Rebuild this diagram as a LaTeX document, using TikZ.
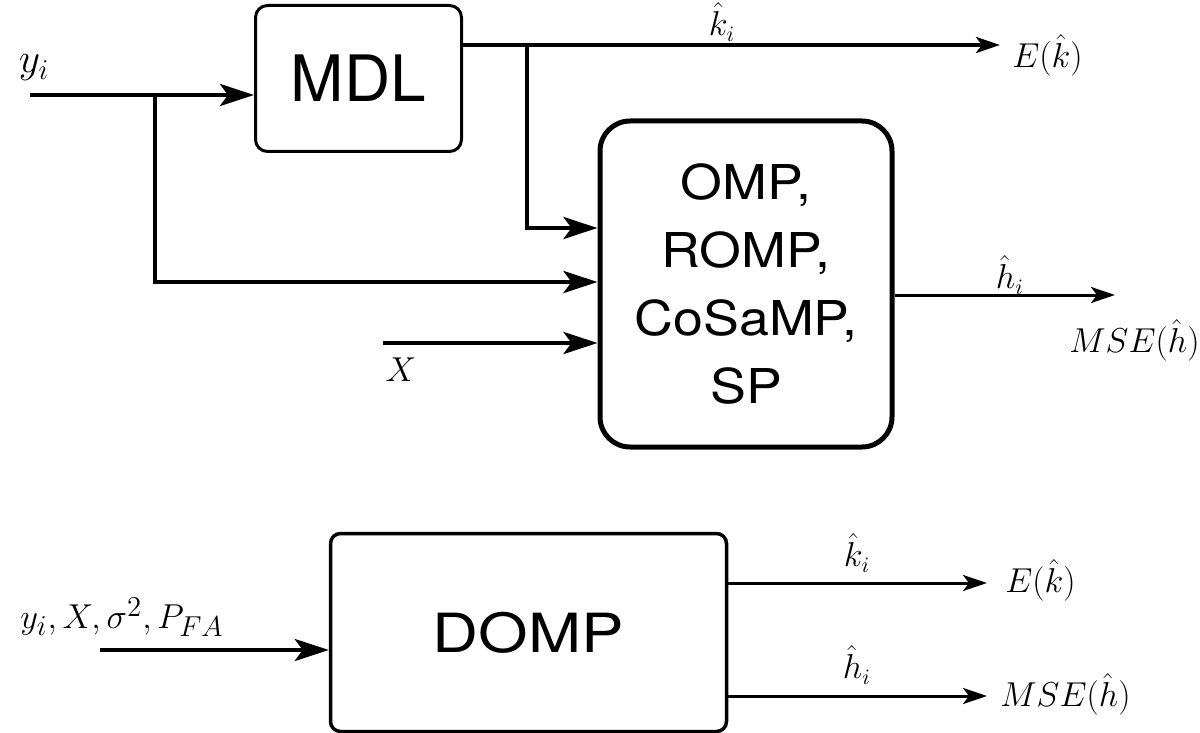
\documentclass[tikz,border=0pt]{standalone}
\usepackage{fontspec}
\newfontfamily\blkfont{TeX Gyre Heros}
\newfontfamily\widefont[FakeStretch=1.12]{TeX Gyre Heros}
\newfontfamily\widerfont[FakeStretch=1.18]{TeX Gyre Heros}
\usetikzlibrary{arrows.meta}

\begin{document}
\begin{tikzpicture}[x=0.5pt,y=-0.5pt,
    insig/.style={line width=2.2pt,-{Stealth[length=17pt,width=11pt,inset=4pt]}},
    outsig/.style={line width=1.5pt,-{Stealth[length=12pt,width=8pt,inset=3pt]}},
    lbl/.style={font=\fontsize{16}{19}\selectfont,inner sep=0pt}]
    \useasboundingbox (0,0) rectangle (1200,733);
    % blocks
    \node[draw,line width=1.5pt,rounded corners=6pt,minimum width=103pt,minimum height=73pt,
      font=\blkfont\fontsize{32}{38}\selectfont] (mdl) at (358.5,78.5) {MDL};
    \node[draw,line width=2.5pt,rounded corners=15pt,minimum width=146pt,minimum height=163pt,
      align=center,font=\widefont\fontsize{24}{34}\selectfont] (alg) at (746,284)
      {OMP,\\ROMP,\\CoSaMP,\\SP};
    \node[draw,line width=1.75pt,rounded corners=5pt,minimum width=198pt,minimum height=99pt,
      font=\widerfont\fontsize{27}{32}\selectfont] (domp) at (528.5,632.5) {DOMP};
    % free ends
    \coordinate (yin) at (30,95);
    \coordinate (br1) at (155,95);
    \coordinate (kout) at (1000,45);
    \coordinate (br2) at (527,45);
    \coordinate (xin) at (383,343);
    \coordinate (hout) at (1115,295);
    \coordinate (din) at (100,650);
    \coordinate (dkout) at (987,583);
    \coordinate (dhout) at (987,696);
    % top chain
    \draw[insig] (yin) -- (yin -| mdl.west);
    \draw[insig] (br1) |- (alg.west |- 0,282);
    \draw[outsig,line width=2pt] (kout -| mdl.east) -- (kout);
    \draw[insig] (br2) |- (alg.west |- 0,228);
    \draw[insig] (xin) -- (xin -| alg.west);
    \draw[outsig] (hout -| alg.east) -- (hout);
    % bottom chain
    \draw[insig] (din) -- (din -| domp.west);
    \draw[outsig] (dkout -| domp.east) -- (dkout);
    \draw[outsig] (dhout -| domp.east) -- (dhout);
    % labels
    \node[lbl,font=\fontsize{20}{24}\selectfont] (ly) at (34,68) {$y_i$};
    \node[lbl] (lk) at (722,22) {$\hat{k}_i$};
    \node[lbl,anchor=west] (lE) at (1012,55) {$E(\hat{k})$};
    \node[lbl] (lh) at (1010,275) {$\hat{h}_i$};
    \node[lbl,anchor=east] (lmse) at (1200,340) {$MSE(\hat{h})$};
    \node[lbl,font=\fontsize{17}{20}\selectfont] (lx) at (401,370) {$X$};
    \node[lbl,anchor=east,font=\fontsize{19}{22}\selectfont] (lin) at (224,617) {$y_i, X, \sigma^2, P_{FA}$};
    \node[lbl] (dk) at (857,553) {$\hat{k}_i$};
    \node[lbl,anchor=west] (dE) at (1005,580) {$E(\hat{k})$};
    \node[lbl] (dh) at (857,665) {$\hat{h}_i$};
    \node[lbl,anchor=west] (dmse) at (1000,694) {$MSE(\hat{h})$};
\end{tikzpicture}
\end{document}
